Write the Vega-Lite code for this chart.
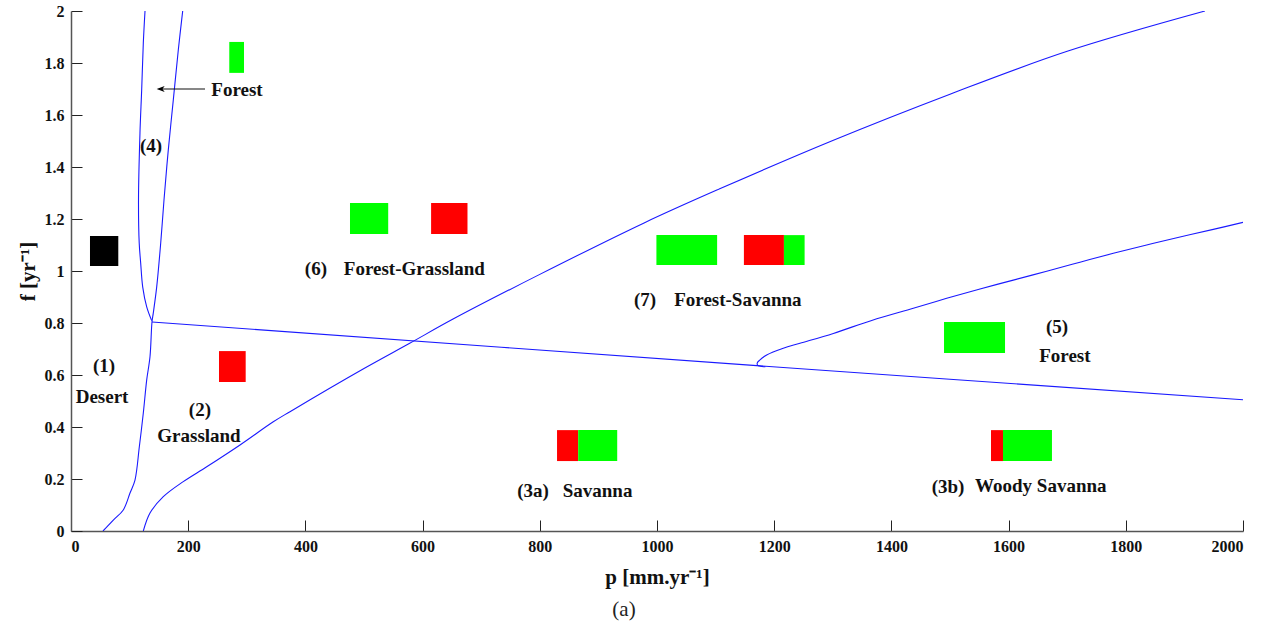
{
  "$schema": "https://vega.github.io/schema/vega-lite/v6.json",
  "width": 1172,
  "height": 520,
  "autosize": {"type": "none"},
  "padding": {"left": 71, "top": 11, "right": 29, "bottom": 101},
  "background": "white",
  "config": {
    "view": {"stroke": null},
    "axis": {"grid": false, "labelFont": "Liberation Serif", "labelFontWeight": "bold", "labelFontSize": 16, "labelColor": "#111", "titleFont": "Liberation Serif", "titleFontWeight": "bold", "titleFontSize": 21, "titleColor": "#111", "domainColor": "#555", "domainWidth": 1.5, "tickColor": "#222", "tickWidth": 1, "tickSize": -11}
  },
  "title": {"text": "(a)", "orient": "bottom", "font": "Liberation Serif", "fontWeight": "normal", "fontSize": 21, "color": "#222", "offset": 12, "dx": -33},
  "datasets": {
    "curves": [
      {"curve": "A", "i": 1, "p": 54.6, "f": 0},
      {"curve": "A", "i": 2, "p": 72.2, "f": 0.042},
      {"curve": "A", "i": 3, "p": 89.2, "f": 0.081},
      {"curve": "A", "i": 4, "p": 100.7, "f": 0.146},
      {"curve": "A", "i": 5, "p": 109.2, "f": 0.196},
      {"curve": "A", "i": 6, "p": 116.6, "f": 0.324},
      {"curve": "A", "i": 7, "p": 123.4, "f": 0.454},
      {"curve": "A", "i": 8, "p": 129.2, "f": 0.581},
      {"curve": "A", "i": 9, "p": 134.8, "f": 0.67},
      {"curve": "A", "i": 10, "p": 138.2, "f": 0.804},
      {"curve": "A", "i": 11, "p": 140.4, "f": 0.838},
      {"curve": "A", "i": 12, "p": 146.2, "f": 0.938},
      {"curve": "A", "i": 13, "p": 153.1, "f": 1.108},
      {"curve": "A", "i": 14, "p": 158.7, "f": 1.273},
      {"curve": "A", "i": 15, "p": 166, "f": 1.465},
      {"curve": "A", "i": 16, "p": 174.6, "f": 1.658},
      {"curve": "A", "i": 17, "p": 183.1, "f": 1.85},
      {"curve": "A", "i": 18, "p": 190.6, "f": 2.0},
      {"curve": "D", "i": 1, "p": 126.3, "f": 2.0},
      {"curve": "D", "i": 2, "p": 123.4, "f": 1.877},
      {"curve": "D", "i": 3, "p": 120.6, "f": 1.696},
      {"curve": "D", "i": 4, "p": 117.7, "f": 1.531},
      {"curve": "D", "i": 5, "p": 115.2, "f": 1.273},
      {"curve": "D", "i": 6, "p": 116.4, "f": 1.108},
      {"curve": "D", "i": 7, "p": 118.9, "f": 1.031},
      {"curve": "D", "i": 8, "p": 122.4, "f": 0.938},
      {"curve": "D", "i": 9, "p": 129.2, "f": 0.862},
      {"curve": "D", "i": 10, "p": 137.7, "f": 0.809},
      {"curve": "E", "i": 1, "p": 138.2, "f": 0.804},
      {"curve": "E", "i": 2, "p": 1170, "f": 0.636},
      {"curve": "E", "i": 3, "p": 2000, "f": 0.505},
      {"curve": "B", "i": 1, "p": 123.4, "f": 0},
      {"curve": "B", "i": 2, "p": 134.8, "f": 0.069},
      {"curve": "B", "i": 3, "p": 157.5, "f": 0.132},
      {"curve": "B", "i": 4, "p": 191.6, "f": 0.19},
      {"curve": "B", "i": 5, "p": 231.6, "f": 0.247},
      {"curve": "B", "i": 6, "p": 288.4, "f": 0.331},
      {"curve": "B", "i": 7, "p": 345.2, "f": 0.42},
      {"curve": "B", "i": 8, "p": 373.7, "f": 0.459},
      {"curve": "B", "i": 9, "p": 500, "f": 0.625},
      {"curve": "B", "i": 10, "p": 578, "f": 0.722},
      {"curve": "B", "i": 11, "p": 652, "f": 0.815},
      {"curve": "B", "i": 12, "p": 800, "f": 0.987},
      {"curve": "B", "i": 13, "p": 978, "f": 1.185},
      {"curve": "B", "i": 14, "p": 1106, "f": 1.315},
      {"curve": "B", "i": 15, "p": 1300, "f": 1.502},
      {"curve": "B", "i": 16, "p": 1500, "f": 1.68},
      {"curve": "B", "i": 17, "p": 1700, "f": 1.845},
      {"curve": "B", "i": 18, "p": 1935, "f": 2.0},
      {"curve": "C", "i": 1, "p": 1185, "f": 0.632},
      {"curve": "C", "i": 2, "p": 1172, "f": 0.637},
      {"curve": "C", "i": 3, "p": 1171, "f": 0.646},
      {"curve": "C", "i": 4, "p": 1175.8, "f": 0.658},
      {"curve": "C", "i": 5, "p": 1187.2, "f": 0.677},
      {"curve": "C", "i": 6, "p": 1215.5, "f": 0.703},
      {"curve": "C", "i": 7, "p": 1244, "f": 0.722},
      {"curve": "C", "i": 8, "p": 1300.9, "f": 0.76},
      {"curve": "C", "i": 9, "p": 1366.4, "f": 0.81},
      {"curve": "C", "i": 10, "p": 1437.4, "f": 0.857},
      {"curve": "C", "i": 11, "p": 1494.4, "f": 0.895},
      {"curve": "C", "i": 12, "p": 1551.2, "f": 0.931},
      {"curve": "C", "i": 13, "p": 1608, "f": 0.965},
      {"curve": "C", "i": 14, "p": 1665, "f": 0.999},
      {"curve": "C", "i": 15, "p": 1721.8, "f": 1.034},
      {"curve": "C", "i": 16, "p": 1778.7, "f": 1.068},
      {"curve": "C", "i": 17, "p": 1835.6, "f": 1.1},
      {"curve": "C", "i": 18, "p": 1892.5, "f": 1.131},
      {"curve": "C", "i": 19, "p": 1949.3, "f": 1.16},
      {"curve": "C", "i": 20, "p": 2000, "f": 1.187}
    ],
    "boxes": [
      {"kind": "black", "p1": 32.4, "p2": 80.7, "f1": 1.019, "f2": 1.135},
      {"kind": "green", "p1": 270.1, "p2": 295.2, "f1": 1.762, "f2": 1.881},
      {"kind": "red", "p1": 252.6, "p2": 298.1, "f1": 0.573, "f2": 0.692},
      {"kind": "green", "p1": 476.1, "p2": 541.3, "f1": 1.142, "f2": 1.262},
      {"kind": "red", "p1": 614.5, "p2": 676.6, "f1": 1.142, "f2": 1.262},
      {"kind": "green", "p1": 999, "p2": 1102.6, "f1": 1.023, "f2": 1.138},
      {"kind": "red", "p1": 1148.3, "p2": 1216.6, "f1": 1.023, "f2": 1.138},
      {"kind": "green", "p1": 1216.6, "p2": 1251.9, "f1": 1.023, "f2": 1.138},
      {"kind": "green", "p1": 1489.8, "p2": 1593.9, "f1": 0.685, "f2": 0.804},
      {"kind": "red", "p1": 829.4, "p2": 865.5, "f1": 0.269, "f2": 0.388},
      {"kind": "green", "p1": 865.5, "p2": 932.1, "f1": 0.269, "f2": 0.388},
      {"kind": "red", "p1": 1570, "p2": 1590.4, "f1": 0.269, "f2": 0.388},
      {"kind": "green", "p1": 1590.4, "p2": 1674, "f1": 0.269, "f2": 0.388}
    ],
    "labels": [
      {"text": "(1)", "p": 56.3, "f": 0.635},
      {"text": "Desert", "p": 53, "f": 0.515},
      {"text": "(2)", "p": 220, "f": 0.465},
      {"text": "Grassland", "p": 218.4, "f": 0.365},
      {"text": "(4)", "p": 136.5, "f": 1.481},
      {"text": "Forest", "p": 283.3, "f": 1.696},
      {"text": "(6)", "p": 418, "f": 1.008},
      {"text": "Forest-Grassland", "p": 586, "f": 1.008},
      {"text": "(7)", "p": 979.5, "f": 0.888},
      {"text": "Forest-Savanna", "p": 1138, "f": 0.888},
      {"text": "(5)", "p": 1682.6, "f": 0.785},
      {"text": "Forest", "p": 1696, "f": 0.673},
      {"text": "(3a)", "p": 788.4, "f": 0.154},
      {"text": "Savanna", "p": 898.5, "f": 0.154},
      {"text": "(3b)", "p": 1496.6, "f": 0.169},
      {"text": "Woody Savanna", "p": 1655, "f": 0.173}
    ],
    "arrow": [
      {"p1": 150, "p2": 228.7, "f": 1.7, "head": 153}
    ]
  },
  "layer": [
    {
      "data": {"name": "boxes"},
      "mark": {"type": "rect"},
      "encoding": {
        "x": {"field": "p1", "type": "quantitative", "scale": {"domain": [0, 2000], "nice": false, "zero": false},
          "axis": {"values": [0, 200, 400, 600, 800, 1000, 1200, 1400, 1600, 1800, 2000], "format": "d", "title": "p [mm.yr⁻¹]", "labelPadding": 18, "titlePadding": 12}},
        "x2": {"field": "p2"},
        "y": {"field": "f1", "type": "quantitative", "scale": {"domain": [0, 2], "nice": false, "zero": false},
          "axis": {"values": [0, 0.2, 0.4, 0.6, 0.8, 1, 1.2, 1.4, 1.6, 1.8, 2], "format": "~g", "title": "f [yr⁻¹]", "labelPadding": 18, "titlePadding": 6}},
        "y2": {"field": "f2"},
        "color": {"field": "kind", "type": "nominal", "scale": {"domain": ["black", "green", "red"], "range": ["#000000", "#00ff00", "#ff0000"]}, "legend": null}
      }
    },
    {
      "data": {"name": "curves"},
      "mark": {"type": "line", "color": "#1a1aff", "strokeWidth": 1.1, "clip": true, "interpolate": "catmull-rom"},
      "encoding": {
        "x": {"field": "p", "type": "quantitative"},
        "y": {"field": "f", "type": "quantitative"},
        "detail": {"field": "curve"},
        "order": {"field": "i", "type": "quantitative"}
      }
    },
    {
      "data": {"name": "arrow"},
      "mark": {"type": "rule", "color": "#111", "strokeWidth": 1.2},
      "encoding": {
        "x": {"field": "p1", "type": "quantitative"},
        "x2": {"field": "p2"},
        "y": {"field": "f", "type": "quantitative"}
      }
    },
    {
      "data": {"name": "arrow"},
      "mark": {"type": "point", "shape": "M-1,0L1,-0.75L0.45,0L1,0.75Z", "filled": true, "color": "#000", "size": 64, "opacity": 1},
      "encoding": {
        "x": {"field": "head", "type": "quantitative"},
        "y": {"field": "f", "type": "quantitative"}
      }
    },
    {
      "data": {"name": "labels"},
      "mark": {"type": "text", "font": "Liberation Serif", "fontWeight": "bold", "fontSize": 19, "color": "#111", "align": "center", "baseline": "middle"},
      "encoding": {
        "x": {"field": "p", "type": "quantitative"},
        "y": {"field": "f", "type": "quantitative"},
        "text": {"field": "text"}
      }
    }
  ]
}
